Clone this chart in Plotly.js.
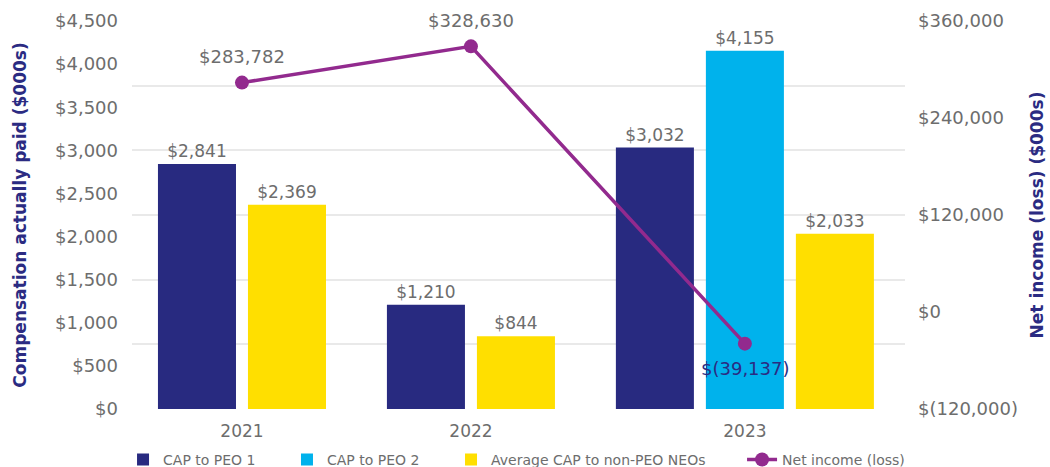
<!DOCTYPE html>
<html><head><meta charset="utf-8">
<script src="https://cdn.plot.ly/plotly-3.0.1.min.js"></script>
<style>html,body{margin:0;padding:0;background:#fff}#chart{width:1050px;height:467px}</style>
</head><body><div id="chart"></div>
<script>
// ---- data ----
const years = ['2021', '2022', '2023'];
const capPeo1 = [2841, 1210, 3032];
const capPeo2 = [null, null, 4155];
const avgCapNeo = [2369, 844, 2033];
const netIncome = [283782, 328630, -39137];
const netIncomeLabels = ['$283,782', '$328,630', '$(39,137)'];
const seriesNames = ['CAP to PEO 1', 'CAP to PEO 2', 'Average CAP to non-PEO NEOs', 'Net income (loss)'];
const leftTickVals = [0, 500, 1000, 1500, 2000, 2500, 3000, 3500, 4000, 4500];
const leftTickLabels = ['$0', '$500', '$1,000', '$1,500', '$2,000', '$2,500', '$3,000', '$3,500', '$4,000', '$4,500'];
const rightTickVals = [-120000, 0, 120000, 240000, 360000];
const rightTickLabels = ['$(120,000)', '$0', '$120,000', '$240,000', '$360,000'];

// ---- styles ----
const colors = ['#282a80', '#00b2ec', '#ffdf00', '#922a8e'];
const gray = '#6d6d6d';
const navy = '#2b2b82';
const FONT = 'DejaVu Sans, Verdana, sans-serif';
const legendX = [-0.0116, 0.2005, 0.4127, 0.7892];
const legendIds = ['legend', 'legend2', 'legend3', 'legend4'];

// ---- x slots: bars of a year side by side, only for series that have a value ----
const barSeries = [capPeo1, capPeo2, avgCapNeo];
const GROUP_GAP = 0.544;
const BAR_W = 0.867;
let pos = 0;
const xs = barSeries.map(() => []);
const ys = barSeries.map(() => []);
const centers = [];
years.forEach((yr, i) => {
  const first = pos;
  barSeries.forEach((s, j) => {
    if (s[i] != null) { xs[j].push(pos); ys[j].push(s[i]); pos += 1; }
  });
  centers.push((first + pos - 1) / 2);
  pos += GROUP_GAP;
});

const traces = barSeries.map((s, j) => ({
  type: 'bar', name: seriesNames[j], x: xs[j], y: ys[j], width: BAR_W,
  marker: {color: colors[j]}, legend: legendIds[j],
  texttemplate: '$%{y:,}', textposition: 'outside', cliponaxis: false,
  textfont: {family: FONT, size: 17, color: gray},
  hoverinfo: 'skip'
}));
traces.push({
  type: 'scatter', mode: 'lines+markers', name: seriesNames[3], legend: legendIds[3],
  x: centers, y: netIncome, yaxis: 'y2',
  line: {color: colors[3], width: 3.5}, marker: {color: colors[3], size: 14},
  cliponaxis: false, hoverinfo: 'skip'
});
// hidden trace to carry shared gridlines
traces.push({type: 'scatter', x: [centers[0]], y: [null], yaxis: 'y3', showlegend: false, hoverinfo: 'skip'});

const annotations = netIncome.map((v, i) => ({
  x: centers[i], y: v, xref: 'x', yref: 'y2', showarrow: false,
  text: netIncomeLabels[i], yshift: v < 0 ? -25 : 26,
  font: {family: FONT, size: 18, color: v < 0 ? navy : gray}
}));

const layout = {
  width: 1050, height: 467,
  margin: {l: 132, r: 145, t: 21, b: 58, autoexpand: false},
  paper_bgcolor: '#fff', plot_bgcolor: '#fff',
  font: {family: FONT, color: gray},
  barmode: 'overlay',
  showlegend: true,
  xaxis: {range: [-0.722, 7.867], tickvals: centers, ticktext: years, showgrid: false,
          zeroline: false, showline: false, ticks: '', ticklabelstandoff: 10,
          tickfont: {family: FONT, size: 17, color: gray}},
  yaxis: {range: [0, 4500], tickvals: leftTickVals, ticktext: leftTickLabels,
          showgrid: false, zeroline: false, showline: false, ticks: '', ticklabelstandoff: 13,
          tickfont: {family: FONT, size: 18, color: gray},
          title: {text: 'Compensation actually paid ($000s)', standoff: 24,
                  font: {family: FONT, size: 17, color: navy, weight: 'bold'}}},
  yaxis2: {range: [-120000, 360000], overlaying: 'y', side: 'right', tickvals: rightTickVals,
           ticktext: rightTickLabels, showgrid: false, zeroline: false, showline: false, ticks: '',
           ticklabelstandoff: 12, tickfont: {family: FONT, size: 18, color: gray},
           title: {text: 'Net income (loss) ($000s)', standoff: 14,
                   font: {family: FONT, size: 17, color: navy, weight: 'bold'}}},
  yaxis3: {range: [0, 4500], dtick: 750, tick0: 0, overlaying: 'y', showticklabels: false,
           showgrid: true, gridcolor: '#e9e9e9', gridwidth: 2, zeroline: false, ticks: ''},
  annotations: annotations
};
legendIds.forEach((id, k) => {
  layout[id] = {orientation: 'h', x: legendX[k], xanchor: 'left', y: -0.131, yanchor: 'middle',
                bgcolor: 'rgba(0,0,0,0)', font: {family: FONT, size: 14, color: gray}};
});

Plotly.newPlot('chart', traces, layout, {displayModeBar: false, staticPlot: true});
</script>
</body></html>
